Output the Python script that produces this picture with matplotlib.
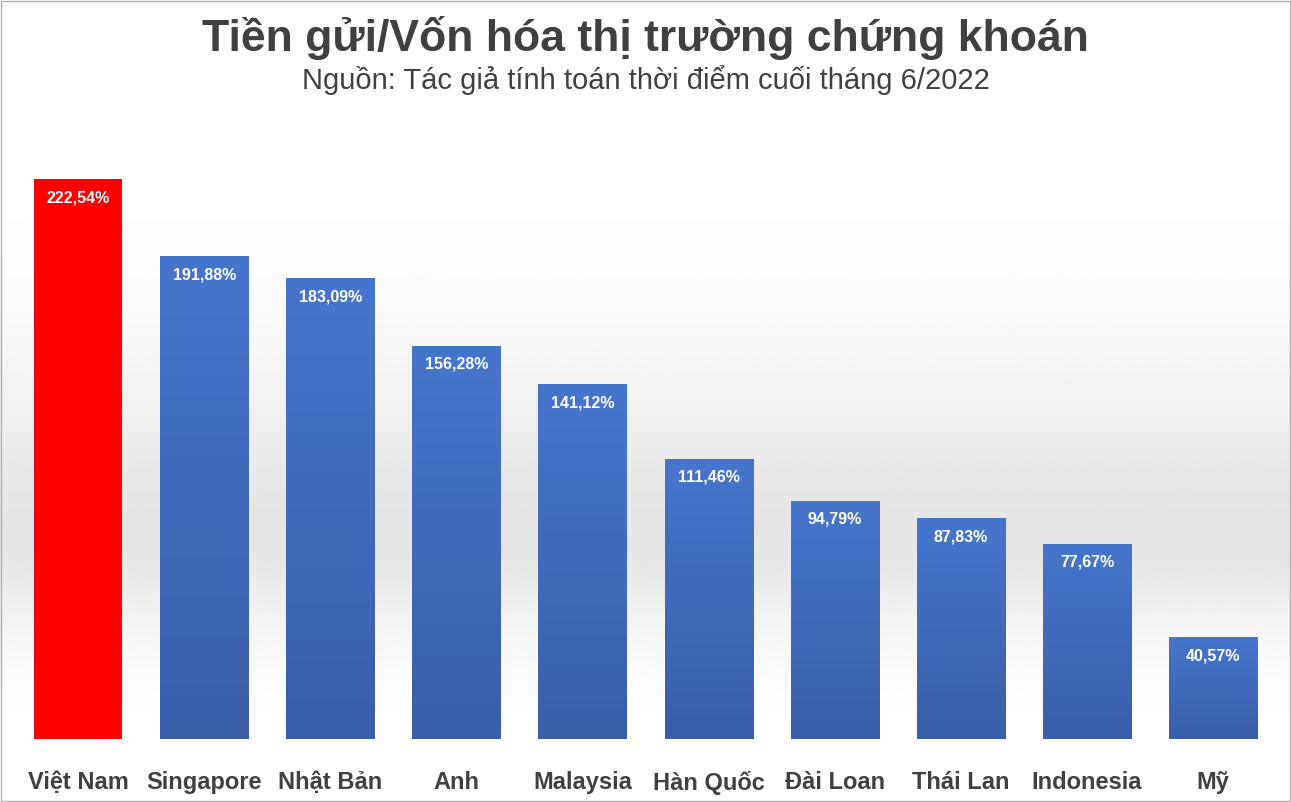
import numpy as np
import matplotlib
matplotlib.use("Agg")
import matplotlib.pyplot as plt
from matplotlib.patches import Rectangle
from matplotlib.colors import LinearSegmentedColormap

countries = ["Việt Nam", "Singapore", "Nhật Bản", "Anh", "Malaysia", "Hàn Quốc",
             "Đài Loan", "Thái Lan", "Indonesia", "Mỹ"]
values = [222.54, 191.88, 183.09, 156.28, 141.12, 111.46, 94.79, 87.83, 77.67, 40.57]
labels = ["222,54%", "191,88%", "183,09%", "156,28%", "141,12%", "111,46%",
          "94,79%", "87,83%", "77,67%", "40,57%"]

plt.rcParams["font.family"] = ["Liberation Sans", "DejaVu Sans"]

fig = plt.figure(figsize=(12.91, 8.03), dpi=100)

# background gradient: white at top, light grey band near the bottom third
bg = fig.add_axes([0, 0, 1, 1], zorder=0)
yy = np.linspace(0, 1, 400)
shade = 1 - 0.10 * np.exp(-((yy - 0.33) / 0.22) ** 2)
shade[yy < 0.33] = 1 - 0.10 * np.exp(-((yy[yy < 0.33] - 0.33) / 0.12) ** 2)
bg.imshow(np.repeat(shade[:, None], 2, axis=1), cmap="gray", vmin=0, vmax=1,
          origin="lower", aspect="auto", extent=[0, 1, 0, 1])
bg.add_patch(Rectangle((0.001, 0.001), 0.998, 0.997, fill=False, ec="#b0b0b0", lw=1))
bg.set_xlim(0, 1); bg.set_ylim(0, 1)
bg.axis("off")

ax = fig.add_axes([0.0116, 0.078, 0.977, 0.735], zorder=1)
ax.patch.set_alpha(0)
x = np.arange(len(values))
colors = ["#ff0000"] + ["#4472c4"] * (len(values) - 1)
bars = ax.bar(x, values, width=0.7, color=colors, zorder=3)
# blue vertical gradient on the blue bars
grad = np.linspace(0, 1, 256)[:, None]
cm = LinearSegmentedColormap.from_list("b", ["#3a5ea8", "#4676cc"])
for b in bars[1:]:
    im = ax.imshow(grad, cmap=cm, origin="lower", aspect="auto", zorder=4,
                   extent=[b.get_x(), b.get_x() + b.get_width(), 0, b.get_height()])
    im.set_clip_path(b)
for xi, v, lab in zip(x, values, labels):
    ax.text(xi, v - 4, lab, ha="center", va="top", color="white",
            fontsize=11.5, fontweight="bold", zorder=5)
ax.set_xlim(-0.5, len(values) - 0.5)
ax.set_ylim(0, 234.4)
ax.set_xticks(x)
ax.set_xticklabels(countries, fontsize=17, color="#404040", fontweight="bold")
ax.tick_params(axis="x", length=0, pad=22)
ax.set_yticks([])
for s in ax.spines.values():
    s.set_visible(False)

fig.text(0.5, 0.953, "Tiền gửi/Vốn hóa thị trường chứng khoán", ha="center", va="center",
         fontsize=32, fontweight="bold", color="#404040")
fig.text(0.5, 0.900, "Nguồn: Tác giả tính toán thời điểm cuối tháng 6/2022", ha="center",
         va="center", fontsize=21, color="#404040")

fig.savefig("out.png", dpi=100)
